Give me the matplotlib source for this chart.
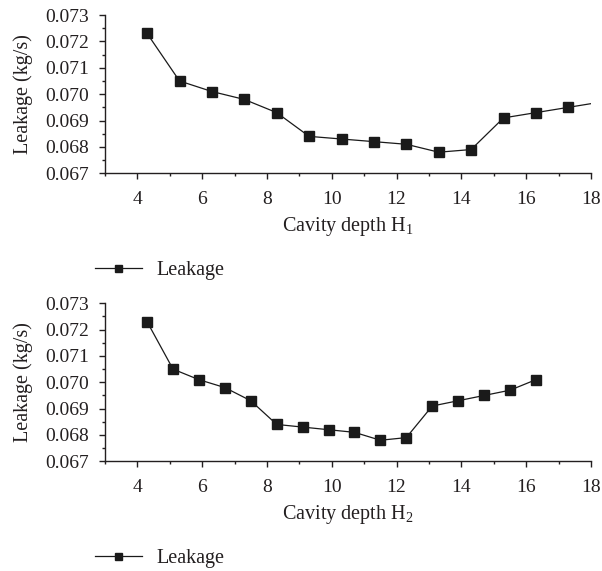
import matplotlib
matplotlib.use('Agg')
import matplotlib.pyplot as plt
from matplotlib.ticker import MultipleLocator, FormatStrFormatter

plt.rcParams['font.family'] = ['Liberation Serif', 'DejaVu Serif']
plt.rcParams['mathtext.fontset'] = 'custom'
plt.rcParams['mathtext.rm'] = 'Liberation Serif'

# data
depth_h1 = [4.3, 5.3, 6.3, 7.3, 8.3, 9.3, 10.3, 11.3, 12.3, 13.3, 14.3, 15.3, 16.3, 17.3, 18.3]
leak_h1 = [0.0723, 0.0705, 0.0701, 0.0698, 0.0693, 0.0684, 0.0683, 0.0682, 0.0681,
           0.0678, 0.0679, 0.0691, 0.0693, 0.0695, 0.0697]

depth_h2 = [4.3, 5.1, 5.9, 6.7, 7.5, 8.3, 9.1, 9.9, 10.7, 11.5, 12.3, 13.1, 13.9, 14.7, 15.5, 16.3]
leak_h2 = [0.0723, 0.0705, 0.0701, 0.0698, 0.0693, 0.0684, 0.0683, 0.0682, 0.0681,
           0.0678, 0.0679, 0.0691, 0.0693, 0.0695, 0.0697, 0.0701]

ink = '#231f20'
mark = '#1a1a1a'

fig = plt.figure(figsize=(6.02, 5.71), dpi=100)
ax1 = fig.add_axes([0.1744, 0.6965, 0.8073, 0.2772])
ax2 = fig.add_axes([0.1744, 0.1921, 0.8073, 0.2767])


def style(ax, x, y, sub):
    ax.plot(x, y, color=mark, linewidth=0.9, marker='s', markersize=7.2,
            markeredgecolor=mark, markerfacecolor=mark, label='Leakage')
    ax.set_xlim(3, 18)
    ax.set_ylim(0.067, 0.073)
    ax.xaxis.set_minor_locator(MultipleLocator(1))
    ax.yaxis.set_major_locator(MultipleLocator(0.001))
    ax.yaxis.set_minor_locator(MultipleLocator(0.0005))
    ax.yaxis.set_major_formatter(FormatStrFormatter('%.3f'))
    ax.set_xticks([4, 6, 8, 10, 12, 14, 16, 18])
    for s in ['top', 'right']:
        ax.spines[s].set_visible(False)
    for s in ['left', 'bottom']:
        ax.spines[s].set_color(ink)
        ax.spines[s].set_linewidth(1.0)
    ax.tick_params(which='major', direction='out', length=4.5, width=1.0,
                   colors=ink, labelsize=14, pad=7)
    ax.tick_params(axis='x', which='major', pad=8.5)
    ax.tick_params(which='minor', direction='out', length=2.5, width=1.0, colors=ink)
    ax.set_xlabel(r'Cavity depth H$_\mathregular{' + sub + '}$', fontsize=14.5, color=ink)
    ax.set_ylabel('Leakage (kg/s)', fontsize=14.5, color=ink)
    ax.xaxis.set_label_coords(0.5, -0.265)
    ax.yaxis.set_label_coords(-0.148, 0.5)
    ax.legend(loc='center left', bbox_to_anchor=(-0.02, -0.615), frameon=False,
              borderaxespad=0, borderpad=0, handlelength=2.3, handletextpad=0.75,
              fontsize=14.5, labelcolor=ink, markerscale=0.7)


style(ax1, depth_h1, leak_h1, '1')
style(ax2, depth_h2, leak_h2, '2')

fig.savefig('out.png', dpi=100)
